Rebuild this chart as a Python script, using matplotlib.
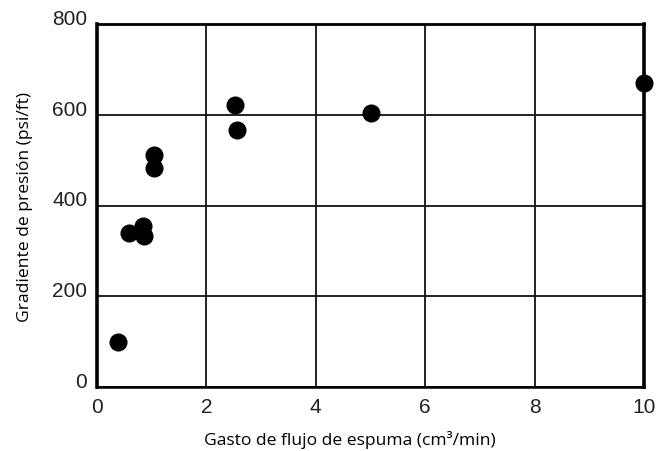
import matplotlib
matplotlib.use("Agg")
import matplotlib.pyplot as plt

# Data
flow = [0.38, 0.58, 0.84, 0.86, 1.04, 1.04, 2.52, 2.56, 5.0, 10.0]
gradient = [100, 340, 355, 333, 511, 483, 621, 566, 604, 670]

xticks = [0, 2, 4, 6, 8, 10]
yticks = [0, 200, 400, 600, 800]

fig = plt.figure(figsize=(6.57, 4.52), dpi=100)
ax = fig.add_axes([97/657, 64/452, (644-97)/657, (388-25)/452])

ax.set_xlim(0, 10)
ax.set_ylim(0, 800)
ax.set_xticks(xticks)
ax.set_yticks(yticks)
ax.grid(True, color='#111111', linewidth=1.3)
ax.set_axisbelow(True)

ax.plot(flow, gradient, 'o', color='black', markersize=12, clip_on=False, zorder=5)

for side, lw in [('left', 2.6), ('right', 2.6), ('top', 2.0), ('bottom', 1.8)]:
    ax.spines[side].set_linewidth(lw)
    ax.spines[side].set_color('black')

ax.tick_params(length=0, labelsize=15, pad=7, colors='#222222')
for lab in ax.get_xticklabels() + ax.get_yticklabels():
    lab.set_family('Liberation Sans')
for lab in ax.get_yticklabels():
    lab.set_verticalalignment('baseline')

ax.set_xlabel('Gasto de flujo de espuma (cm³/min)', family='Open Sans',
              fontsize=12.6)
ax.xaxis.set_label_coords((350 - 97) / 547, -(431 - 388) / 363)
ax.set_ylabel('Gradiente de presión (psi/ft)', family='Open Sans',
              fontsize=12.6, labelpad=14)

fig.savefig('out.png', dpi=100)
